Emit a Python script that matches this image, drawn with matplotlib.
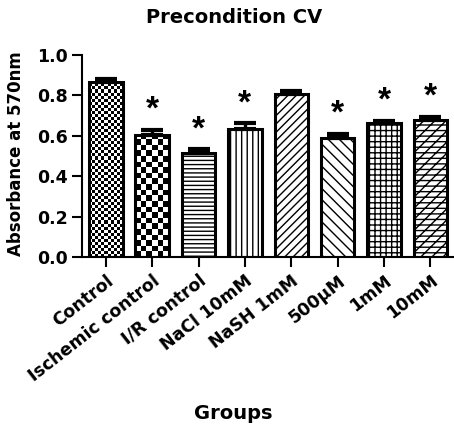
import matplotlib
matplotlib.use("Agg")
import matplotlib.pyplot as plt
import numpy as np

plt.rcParams['font.family'] = ['DejaVu Sans']
plt.rcParams['font.weight'] = 'bold'
plt.rcParams['hatch.linewidth'] = 1.0

# absorbance means and SEM for each group
groups = ['Control', 'Ischemic control', 'I/R control', 'NaCl 10mM',
          'NaSH 1mM', '500µM', '1mM', '10mM']
means = [0.868, 0.604, 0.513, 0.634, 0.807, 0.589, 0.662, 0.678]
sems = [0.013, 0.025, 0.020, 0.028, 0.016, 0.020, 0.013, 0.017]
signif = [False, True, True, True, False, True, True, True]

# fill style per bar: ('checker', cells across) or a hatch string
fills = [('checker', 11), ('checker', 6), '----', '|||',
         '////', '\\\\\\', '+++', '///---']

fig = plt.figure(figsize=(4.54, 4.28), dpi=100)
ax = fig.add_axes([0.181, 0.3995, 0.819, 0.472])
ax.set_ylim(0, 1.0)
ax.set_xlim(-0.51, len(groups) - 1 + 0.51)

x = np.arange(len(groups))
bars = ax.bar(x, means, width=0.72, color='white', edgecolor='black',
              linewidth=2.2, zorder=2)

# pixels per data unit, used to keep checker cells square
p0 = ax.transData.transform((0, 0))
p1 = ax.transData.transform((1, 1))
px_x, px_y = p1[0] - p0[0], p1[1] - p0[1]

for b, f in zip(bars, fills):
    if isinstance(f, str):
        b.set_hatch(f)
    else:
        n = f[1]
        bx, bw, bh = b.get_x(), b.get_width(), b.get_height()
        ch = (bw / n) * px_x / px_y
        m = int(np.ceil(bh / ch))
        board = (np.indices((m, n)).sum(axis=0) % 2).astype(float)
        b.set_facecolor('none')
        im = ax.imshow(board, cmap='gray', interpolation='nearest', aspect='auto',
                       extent=[bx, bx + bw, 0, m * ch], origin='lower', zorder=1.5)
        im.set_clip_path(b)

ax.set_ylim(0, 1.0)
ax.set_xlim(-0.51, len(groups) - 1 + 0.51)

ax.errorbar(x, means, yerr=[np.zeros(len(sems)), sems], fmt='none',
            ecolor='black', elinewidth=2.4, capsize=8, capthick=3, zorder=3)

for xi, m, s, sig in zip(x, means, sems, signif):
    if sig:
        ax.text(xi, m + s + 0.02, '*', ha='center', va='bottom',
                fontsize=24, fontweight='bold', family='Liberation Sans')

ax.set_yticks(np.arange(0, 1.01, 0.2))
ax.set_yticklabels(['%.1f' % v for v in np.arange(0, 1.01, 0.2)], fontsize=12.5)
ax.set_xticks(x)
ax.set_xticklabels(groups, rotation=38, ha='right', va='top',
                   rotation_mode='anchor', fontsize=12.5)
ax.tick_params(axis='both', width=1.5, length=7)
for side in ['top', 'right']:
    ax.spines[side].set_visible(False)
for side in ['left', 'bottom']:
    ax.spines[side].set_linewidth(1.5)

fig.text(0.515, 0.958, 'Precondition CV', ha='center', va='center', fontsize=14)
fig.text(0.513, 0.035, 'Groups', ha='center', va='center', fontsize=14)
fig.text(0.035, 0.64, 'Absorbance at 570nm', ha='center', va='center',
         rotation=90, fontsize=12)

fig.savefig('out.png', dpi=100)
